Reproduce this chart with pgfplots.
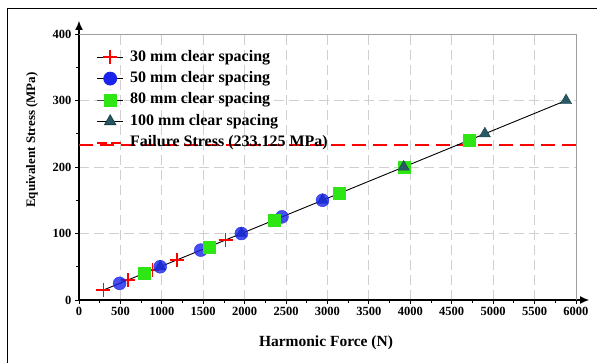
\documentclass[border=0pt]{standalone}
\usepackage{fontspec}
\setmainfont{Liberation Serif}
\usepackage{pgfplots}
\pgfplotsset{compat=1.18}
\usetikzlibrary{arrows.meta}
\definecolor{myblue}{RGB}{25,35,235}
\definecolor{mygreen}{RGB}{45,230,20}
\definecolor{myteal}{RGB}{40,90,100}
\definecolor{gridgray}{RGB}{208,208,208}
\begin{document}
\begin{tikzpicture}
\useasboundingbox (0,0) rectangle (597pt,363pt);
\draw[black, line width=0.8pt] (7pt,0) -- (7pt,355pt) -- (597pt,355pt);
\begin{axis}[
  at={(79pt,63pt)}, anchor=south west,
  scale only axis, width=497pt, height=266pt,
  xmin=0, xmax=6000, ymin=0, ymax=400,
  axis lines=left,
  axis line style={line width=1.1pt, -{Latex[length=9pt,width=8pt]}, shorten >=-13pt},
  xtick={0,500,...,6000}, ytick={0,100,...,400},
  minor x tick num=1, minor y tick num=1,
  tick align=outside, major tick length=4pt, minor tick length=3pt,
  tick style={black, line width=0.9pt},
  grid=major,
  major grid style={gridgray, line width=0.9pt, dash pattern=on 10pt off 5pt},
  /pgf/number format/assume math mode=true,
  /pgf/number format/set thousands separator={},
  scaled ticks=false,
  xticklabel={\bfseries\fontsize{12.5}{13}\selectfont\pgfmathprintnumber{\tick}},
  yticklabel={\bfseries\fontsize{12.5}{13}\selectfont\pgfmathprintnumber{\tick}},
  clip=false,
  legend style={at={(rel axis cs:0,1)}, anchor=north west, xshift=14pt, yshift=-13pt,
    draw=none, fill=none, font=\bfseries\fontsize{16}{16}\selectfont, row sep=5.4pt,
    nodes={inner sep=1pt, text height=11pt, text depth=3pt},
    /tikz/every odd column/.append style={column sep=5pt}},
  legend cell align=left,
  legend image code/.code={\draw[mark repeat=2,mark phase=2] plot coordinates {(0pt,0pt) (13pt,0pt) (26pt,0pt)};},
]
\addlegendimage{black, line width=0.8pt, mark=+, mark size=7pt, mark options={red, line width=1.6pt}}
\addlegendentry{30 mm clear spacing}
\addlegendimage{black, line width=0.8pt, mark=*, mark size=6.5pt, mark options={fill=myblue, draw=myblue}}
\addlegendentry{50 mm clear spacing}
\addlegendimage{black, line width=0.8pt, mark=square*, mark size=6pt, mark options={fill=mygreen, draw=mygreen}}
\addlegendentry{80 mm clear spacing}
\addlegendimage{black, line width=0.8pt, mark=triangle*, mark size=6.5pt, mark options={fill=myteal, draw=myteal!70!black}}
\addlegendentry{100 mm clear spacing}
\addlegendimage{red, line width=2pt, dash pattern=on 10pt off 4pt}
\addlegendentry{Failure Stress (233.125 MPa)}

% failure stress
\addplot[red, line width=2pt, dash pattern=on 14pt off 7pt, forget plot] coordinates {(0,233.125) (6000,233.125)};
% 30 mm
\addplot[only marks, mark=+, mark size=7pt, mark options={red, line width=1.6pt}, forget plot]
  coordinates {(295,15) (590,30) (885,45) (1180,60) (1770,90)};
% 100 mm (lower, behind circles)
\addplot[only marks, mark=triangle*, mark size=6.5pt, mark options={fill=myteal, draw=myteal!70!black}, forget plot]
  coordinates {(980,50) (1960,100) (2940,150)};
% 50 mm
\addplot[only marks, mark=*, mark size=6.5pt, mark options={fill=myblue, draw=myblue, fill opacity=0.8, draw opacity=0.85}, forget plot]
  coordinates {(490,25) (980,50) (1470,75) (1960,100) (2450,125) (2940,150)};
% 80 mm
\addplot[only marks, mark=square*, mark size=6pt, mark options={fill=mygreen, draw=mygreen}, forget plot]
  coordinates {(785,40) (1570,80) (2355,120) (3140,160) (3925,200) (4710,240)};
% 100 mm (upper)
\addplot[only marks, mark=triangle*, mark size=6.5pt, mark options={fill=myteal, draw=myteal!70!black}, forget plot]
  coordinates {(3920,200) (4900,250) (5880,300)};
% trend line
\addplot[black, line width=0.9pt, forget plot] coordinates {(295,15) (5880,300)};
\draw[gray!75, line width=0.8pt] (axis cs:0,400) -- (axis cs:6000,400) -- (axis cs:6000,0);
\end{axis}
\node[rotate=90, font=\bfseries\fontsize{13}{13}\selectfont] at (32pt,223pt) {Equivalent Stress (MPa)};
\node[font=\bfseries\fontsize{15.5}{16}\selectfont] at (326pt,20pt) {Harmonic Force (N)};
\end{tikzpicture}
\end{document}
